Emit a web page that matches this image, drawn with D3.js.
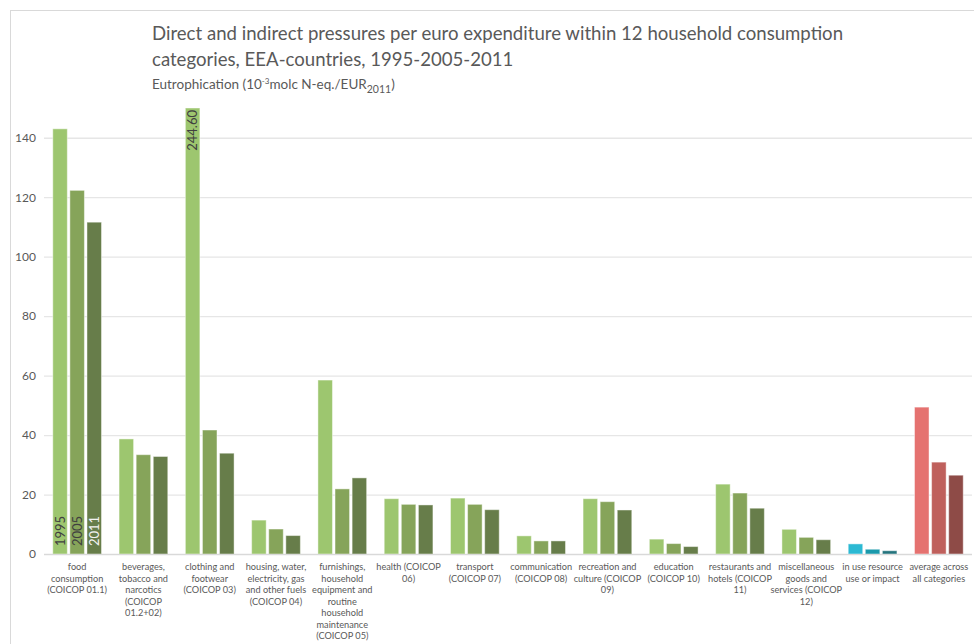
<!DOCTYPE html>
<html>
<head>
<meta charset="utf-8">
<script src="https://cdn.jsdelivr.net/npm/d3@7"></script>
<style>
  html, body { margin: 0; padding: 0; background: #fff; }
  svg { display: block; font-family: Lato, "Open Sans", sans-serif; }
</style>
</head>
<body>
<svg id="chart" width="974" height="644"></svg>
<script>
// ---------- DATA ----------
const categories = [
  ["food", "consumption", "(COICOP 01.1)"],
  ["beverages,", "tobacco and", "narcotics", "(COICOP", "01.2+02)"],
  ["clothing and", "footwear", "(COICOP 03)"],
  ["housing, water,", "electricity, gas", "and other fuels", "(COICOP 04)"],
  ["furnishings,", "household", "equipment and", "routine", "household", "maintenance", "(COICOP 05)"],
  ["health (COICOP", "06)"],
  ["transport", "(COICOP 07)"],
  ["communication", "(COICOP 08)"],
  ["recreation and", "culture (COICOP", "09)"],
  ["education", "(COICOP 10)"],
  ["restaurants and", "hotels (COICOP", "11)"],
  ["miscellaneous", "goods and", "services (COICOP", "12)"],
  ["in use resource", "use or impact"],
  ["average across", "all categories"]
];
const seriesNames = ["1995", "2005", "2011"];
const values1995 = [143.0, 38.7, 244.60, 11.4, 58.5, 18.6, 18.8, 6.1, 18.6, 5.0, 23.5, 8.3, 3.4, 49.4];
const values2005 = [122.3, 33.4, 41.7, 8.4, 21.9, 16.7, 16.7, 4.4, 17.6, 3.5, 20.5, 5.6, 1.6, 30.9];
const values2011 = [111.6, 32.8, 33.9, 6.2, 25.6, 16.5, 14.9, 4.4, 14.8, 2.5, 15.4, 4.8, 1.1, 26.5];
const yTicks = [0, 20, 40, 60, 80, 100, 120, 140];
const yMax = 150;
const labelledValue = { category: 2, series: 0, text: "244.60" };

// ---------- STYLE ----------
const palettes = {
  green: ["#9dc66f", "#86a45a", "#677d4a"],
  teal:  ["#2cb9d3", "#1b99ab", "#25747d"],
  red:   ["#e57270", "#bf605c", "#8e4b47"]
};
function paletteFor(i) {
  if (i === categories.length - 2) return palettes.teal;
  if (i === categories.length - 1) return palettes.red;
  return palettes.green;
}

const svg = d3.select("#chart");
const plot = { left: 44, right: 972, top: 108, bottom: 554 };

// frame
svg.append("rect").attr("x", 10.5).attr("y", 10.5).attr("width", 980).attr("height", 700)
  .attr("fill", "#fff").attr("stroke", "#d9d9d9").attr("stroke-width", 1);

// titles
const title = svg.append("text").attr("x", 152).attr("fill", "#595959")
  .style("font-size", "18.6px");
title.append("tspan").attr("x", 152).attr("y", 40)
  .text("Direct and indirect pressures per euro expenditure within 12 household consumption");
title.append("tspan").attr("x", 152).attr("y", 66)
  .text("categories, EEA-countries, 1995-2005-2011");

const sub = svg.append("text").attr("x", 152).attr("y", 89).attr("fill", "#595959")
  .style("font-size", "13.5px");
sub.append("tspan").text("Eutrophication (10");
sub.append("tspan").attr("dy", -5).style("font-size", "8px").text("-3");
sub.append("tspan").attr("dy", 5).text("molc N-eq./EUR");
sub.append("tspan").attr("dy", 4).style("font-size", "10.5px").text("2011");
sub.append("tspan").attr("dy", -4).text(")");

// scales
const x0 = d3.scaleBand().domain(d3.range(categories.length))
  .range([plot.left, plot.right]).paddingInner(0.265).paddingOuter(0.1325);
const x1 = d3.scaleBand().domain(d3.range(seriesNames.length))
  .range([0, x0.bandwidth()]).paddingInner(0.15).paddingOuter(0);
const y = d3.scaleLinear().domain([0, yMax]).range([plot.bottom, plot.top]);

// grid
const yAxis = d3.axisLeft(y).tickValues(yTicks).tickSize(-(plot.right - plot.left)).tickPadding(8);
const gy = svg.append("g").attr("transform", `translate(${plot.left},0)`).call(yAxis);
gy.select(".domain").remove();
gy.selectAll(".tick line").attr("stroke", "#e6e6e6").attr("stroke-width", 1.3);
gy.selectAll(".tick text").attr("fill", "#595959").style("font-size", "12px")
  .style("font-family", "Lato, 'Open Sans', sans-serif").attr("x", -8);
gy.selectAll(".tick").filter(d => d === 0).select("line").attr("stroke", "#d9d9d9");

// clip
svg.append("clipPath").attr("id", "plotclip").append("rect")
  .attr("x", plot.left).attr("y", plot.top).attr("width", plot.right - plot.left)
  .attr("height", plot.bottom - plot.top);

const seriesValues = [values1995, values2005, values2011];
const barsG = svg.append("g").attr("clip-path", "url(#plotclip)");
categories.forEach((c, i) => {
  const pal = paletteFor(i);
  seriesValues.forEach((vals, s) => {
    const v = Math.min(vals[i], yMax);
    barsG.append("rect")
      .attr("x", x0(i) + x1(s))
      .attr("y", y(v))
      .attr("width", x1.bandwidth())
      .attr("height", y(0) - y(v))
      .attr("fill", pal[s])
      .attr("stroke", "#ffffff").attr("stroke-opacity", 0.45).attr("stroke-width", 1);
  });
});

// year labels inside first group
seriesNames.forEach((name, s) => {
  const cx = x0(0) + x1(s) + x1.bandwidth() / 2;
  svg.append("text")
    .attr("transform", `translate(${cx + 4.5},${y(0) - 8}) rotate(-90)`)
    .attr("text-anchor", "start")
    .attr("fill", s === 2 ? "#f2f2f2" : "#404040")
    .style("font-size", "13px")
    .text(name);
});

// value label for clipped bar
{
  const cx = x0(labelledValue.category) + x1(labelledValue.series) + x1.bandwidth() / 2;
  svg.append("text")
    .attr("transform", `translate(${cx + 4.5},${plot.top + 2}) rotate(-90)`)
    .attr("text-anchor", "end")
    .attr("fill", "#404040")
    .style("font-size", "13px")
    .text(labelledValue.text);
}

// category labels
categories.forEach((lines, i) => {
  const cx = x0(i) + x0.bandwidth() / 2;
  const t = svg.append("text").attr("text-anchor", "middle").attr("fill", "#595959")
    .style("font-size", "9.2px");
  lines.forEach((ln, k) => {
    t.append("tspan").attr("x", cx).attr("y", 570 + k * 11.5).text(ln);
  });
});
</script>
</body>
</html>
